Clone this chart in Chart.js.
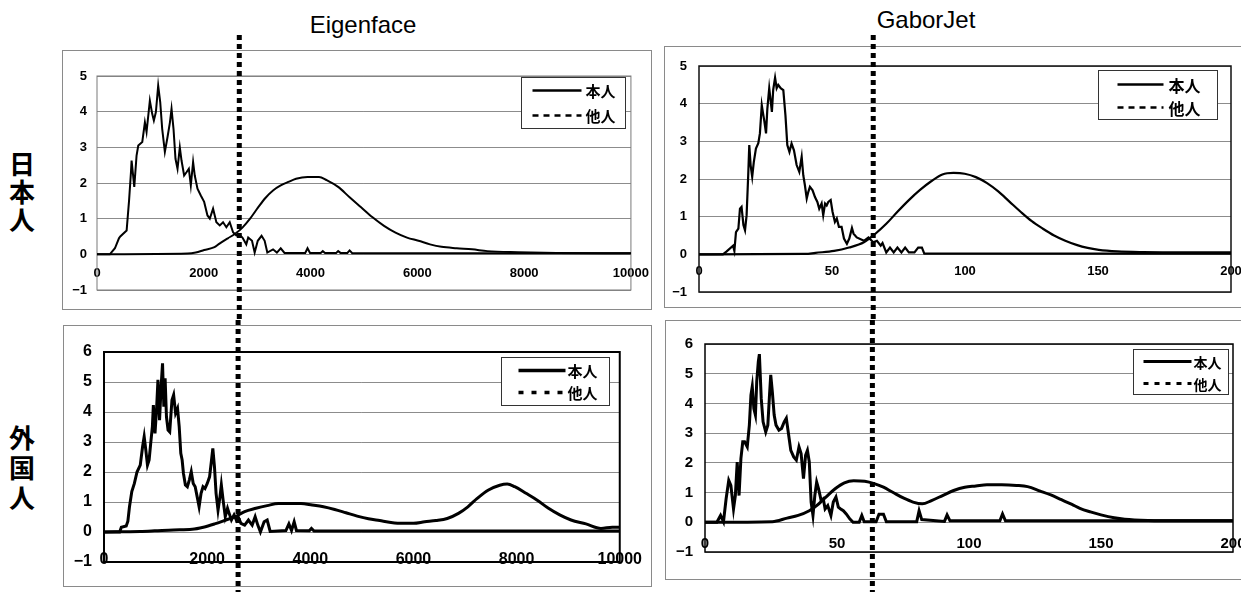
<!DOCTYPE html>
<html>
<head>
<meta charset="utf-8">
<script src="https://cdn.jsdelivr.net/npm/chart.js@4.4.1/dist/chart.umd.min.js"></script>
<style>
    html, body { margin: 0; padding: 0; background: #fff; width: 1241px; height: 592px; overflow: hidden; }
    .frame { position: absolute; border: 1px solid #8a8a8a; box-sizing: border-box; }
    .title { position: absolute; font-family: 'Liberation Sans', Arial, sans-serif; font-size: 24px; color: #000; transform: translateX(-50%); white-space: nowrap; }
    .row { position: absolute; left: 5px; width: 34px; text-align: center; font-family: 'Noto Sans CJK JP', sans-serif; font-weight: 700; font-size: 26px; color: #000; }
    canvas { position: absolute; }
</style>
</head>
<body>

<div class="frame" style="left:62px; top:50px; width:590px; height:260px;"></div>
<div class="frame" style="left:664px; top:46px; width:600px; height:262px;"></div>
<div class="frame" style="left:63px; top:325px; width:589px; height:262px;"></div>
<div class="frame" style="left:665px; top:320px; width:600px; height:260px;"></div>

<div class="title" id="title0" style="left:363px; top:11px;"></div>
<div class="title" id="title1" style="left:926px; top:6px;"></div>
<div class="row" id="row0" style="top:149px; line-height:28px;"></div>
<div class="row" id="row1" style="top:422px; line-height:30px;"></div>

<canvas id="eigenJp" width="600" height="285" style="left:60px; top:35px;"></canvas>
<canvas id="gaborJp" width="610" height="285" style="left:660px; top:35px;"></canvas>
<canvas id="eigenFg" width="600" height="272" style="left:60px; top:320px;"></canvas>
<canvas id="gaborFg" width="610" height="272" style="left:660px; top:320px;"></canvas>

<script>
// labels
const methodTitles = ['Eigenface', 'GaborJet'];
const rowLabels = ['日本人', '外国人'];
const seriesNames = ['本人', '他人'];

// ticks
const xTicksEigen = [0, 2000, 4000, 6000, 8000, 10000];
const xTicksGabor = [0, 50, 100, 150, 200];
const yTicksJp = [-1, 0, 1, 2, 3, 4, 5];
const yTicksFg = [-1, 0, 1, 2, 3, 4, 5, 6];

// threshold (dotted line) per panel: [日本人, 外国人]
const cutEigen = [2665, 2600];
const cutGabor = [65.5, 63.4];

// Eigenface / 日本人
const eigenJpSelf = [[0,0],[240,0],[336,0.17],[411,0.45],[436,0.5],[555,0.67],[600,1.5],[636,2.3],[648,2.63],[698,1.89],[741,2.77],[773,3.05],[848,3.15],[897,3.7],[928,3.43],[990,4.31],[1034,3.94],[1065,3.75],[1103,3.99],[1146,4.73],[1184,4.27],[1221,3.52],[1271,2.87],[1321,3.29],[1366,3.7],[1396,4.08],[1433,3.52],[1470,2.68],[1508,2.4],[1551,3.0],[1583,2.63],[1632,2.21],[1676,2.3],[1720,2.4],[1757,1.93],[1800,2.59],[1831,2.21],[1882,1.84],[1944,1.65],[2007,1.47],[2069,1.09],[2113,1.0],[2174,1.28],[2236,0.9],[2299,0.81],[2361,0.9],[2423,0.76],[2486,0.9],[2548,0.62],[2610,0.53],[2652,0.57],[2724,0.47],[2796,0.28],[2832,0.47],[2903,0.38],[2953,0.05],[3011,0.38],[3082,0.52],[3140,0.38],[3190,0.05],[3297,0.14],[3369,0.05],[3441,0.17],[3512,0.04],[3900,0.04],[3943,0.17],[3990,0.04],[4190,0.04],[4229,0.09],[4270,0.04],[4480,0.04],[4516,0.09],[4560,0.04],[4690,0.04],[4731,0.11],[4780,0.03],[10000,0.03]];
const eigenJpOther = [[0,0],[1700,0.02],[1850,0.05],[2007,0.12],[2200,0.2],[2294,0.3],[2450,0.45],[2581,0.57],[2724,0.75],[2867,1.0],[3011,1.3],[3154,1.58],[3297,1.79],[3441,1.93],[3584,2.03],[3728,2.12],[3943,2.17],[4158,2.17],[4301,2.08],[4516,1.89],[4731,1.6],[4946,1.32],[5161,1.04],[5376,0.8],[5591,0.61],[5806,0.47],[6022,0.38],[6237,0.28],[6452,0.21],[6738,0.17],[7025,0.14],[7312,0.09],[7885,0.06],[8602,0.04],[10000,0.03]];

// GaborJet / 日本人
const gaborJpSelf = [[0,0],[9,0],[10.4,0.08],[12.8,0.23],[13.3,0.09],[13.9,0.59],[14.8,0.68],[15.4,1.21],[16.0,1.26],[16.7,0.78],[17.3,0.64],[17.9,1.04],[18.5,2.1],[18.9,2.9],[19.4,2.37],[20.0,2.06],[20.6,2.45],[21.4,2.81],[22.3,2.95],[22.9,3.21],[23.6,3.96],[24.2,3.69],[24.6,3.52],[25.2,3.21],[25.7,3.87],[26.4,4.41],[26.9,4.1],[27.4,3.78],[27.9,4.37],[28.6,4.69],[29.2,4.41],[29.8,4.5],[30.7,4.41],[31.7,4.36],[32.5,3.69],[33.2,2.9],[34.0,2.72],[34.8,2.94],[35.7,2.76],[36.7,2.37],[37.7,2.19],[38.6,2.59],[39.2,2.1],[39.8,1.84],[40.5,1.48],[41.1,1.66],[41.7,1.79],[42.7,1.7],[43.6,1.52],[44.5,1.39],[45.2,1.21],[46.1,1.35],[46.7,1.04],[47.4,1.35],[48.0,1.3],[48.6,1.39],[49.5,1.44],[50.2,1.13],[51.1,0.86],[51.8,0.95],[52.6,0.73],[53.6,0.73],[54.5,0.42],[55.6,0.28],[56.5,0.42],[57.5,0.7],[58.1,0.55],[59.3,0.45],[62.0,0.36],[63.7,0.45],[65.5,0.32],[66.9,0.36],[68.3,0.23],[69.0,0.3],[70.4,0.05],[71.8,0.18],[73.2,0.05],[74.6,0.18],[76.1,0.05],[77.5,0.18],[78.9,0.05],[81,0.05],[82.4,0.18],[83.8,0.18],[84.7,0.02],[200,0.02]];
const gaborJpOther = [[0,0],[40,0.01],[43.8,0.04],[50.8,0.09],[56.4,0.18],[62,0.32],[66.2,0.54],[70.4,0.81],[74.6,1.13],[78.9,1.44],[83.1,1.71],[87.3,1.94],[91.5,2.12],[95.7,2.16],[99.9,2.14],[104.1,2.05],[108.3,1.89],[112.5,1.67],[116.7,1.4],[120.9,1.13],[125.1,0.88],[129.3,0.68],[133.5,0.5],[137.7,0.36],[141.9,0.25],[146.1,0.17],[150.3,0.12],[157.3,0.08],[167,0.06],[181,0.05],[200,0.05]];

// Eigenface / 外国人
const eigenFgSelf = [[0,0],[304,0],[336,0.16],[431,0.2],[463,0.36],[494,0.84],[539,1.35],[589,1.62],[640,2.0],[703,2.23],[748,2.84],[779,3.18],[811,2.73],[843,2.23],[875,2.4],[906,2.96],[938,3.51],[957,4.23],[989,3.29],[1020,4.12],[1046,5.07],[1077,3.73],[1109,4.9],[1135,5.62],[1160,4.18],[1185,5.12],[1211,3.84],[1242,3.4],[1274,3.34],[1318,4.4],[1350,4.57],[1388,3.96],[1426,4.12],[1458,3.51],[1489,2.62],[1515,2.4],[1540,1.96],[1578,1.57],[1616,1.51],[1654,1.73],[1692,2.01],[1730,1.62],[1768,1.51],[1806,1.18],[1844,0.84],[1882,1.29],[1920,1.51],[1958,1.45],[2002,1.62],[2047,1.84],[2085,2.4],[2110,2.79],[2142,2.17],[2173,1.29],[2211,0.73],[2249,1.18],[2275,1.57],[2313,1.01],[2351,0.51],[2395,0.79],[2427,0.62],[2471,0.4],[2522,0.57],[2566,0.4],[2600,0.51],[2655,0.29],[2727,0.23],[2800,0.4],[2873,0.23],[2931,0.51],[2982,0.23],[3033,0],[3105,0.34],[3164,0.4],[3222,0.02],[3527,0.05],[3585,0.27],[3636,0.05],[3687,0.34],[3731,0.05],[3980,0.04],[4022,0.12],[4073,0.03],[10000,0.03]];
const eigenFgOther = [[0,0],[700,0.02],[982,0.04],[1345,0.07],[1709,0.09],[1927,0.16],[2145,0.27],[2364,0.4],[2545,0.51],[2727,0.68],[2945,0.79],[3164,0.88],[3382,0.95],[3600,0.95],[3818,0.95],[4036,0.9],[4255,0.84],[4473,0.75],[4691,0.64],[4909,0.53],[5127,0.44],[5345,0.38],[5564,0.32],[5782,0.29],[6000,0.29],[6218,0.34],[6436,0.38],[6655,0.45],[6873,0.62],[7055,0.84],[7236,1.12],[7455,1.4],[7673,1.56],[7818,1.6],[7964,1.51],[8182,1.29],[8400,1.06],[8618,0.79],[8836,0.57],[9055,0.4],[9345,0.27],[9636,0.12],[9855,0.16],[10000,0.16]];

// GaborJet / 外国人
const gaborFgSelf = [[0,0],[4.5,0],[5.9,0.23],[7.0,0.02],[8.0,0.79],[9.0,1.41],[9.8,1.24],[10.8,0.45],[11.5,0.9],[12.2,2.03],[12.9,0.9],[13.6,2.14],[14.3,2.71],[15.0,2.71],[16.0,2.54],[16.8,3.27],[17.4,4.28],[17.9,4.57],[18.5,3.83],[19.1,3.61],[19.6,4.74],[20.2,5.41],[20.6,5.66],[21.3,4.17],[22.0,3.38],[23.0,3.04],[23.8,3.27],[24.4,4.23],[24.9,4.96],[25.5,4.4],[26.2,3.61],[26.9,3.27],[28.0,3.1],[29.0,3.16],[30.0,3.38],[30.8,3.5],[31.7,2.93],[32.5,2.42],[33.6,2.2],[34.6,2.09],[35.6,2.54],[36.4,2.31],[37.3,1.47],[38.1,2.25],[38.8,2.42],[39.5,2.03],[40.2,0.68],[40.9,0.23],[41.6,0.9],[42.3,1.35],[43.0,1.13],[44.0,0.73],[44.8,0.79],[45.5,0.45],[46.5,0.56],[47.7,0.23],[48.6,0.68],[49.6,0.85],[50.5,0.51],[51.4,0.45],[52.4,0.39],[53.5,0.28],[54.9,0.11],[56.1,0],[58.4,0],[59.4,0.23],[60.3,0.02],[64.8,0.02],[65.9,0.27],[67.6,0.27],[68.7,0.02],[80.2,0.02],[81.1,0.39],[82.1,0.09],[90.7,0.03],[91.7,0.25],[92.8,0.05],[111.7,0.05],[112.7,0.28],[113.8,0.05],[200,0.05]];
const gaborFgOther = [[0,0],[25.5,0.02],[31.1,0.14],[35.3,0.23],[39.5,0.39],[42.3,0.56],[45.8,0.85],[49.3,1.13],[52.8,1.33],[56.3,1.4],[60.5,1.38],[64.1,1.3],[67.6,1.18],[71.1,1.01],[75.3,0.81],[78.8,0.68],[82.3,0.62],[85.8,0.73],[90.0,0.9],[94.2,1.07],[98.4,1.18],[102.6,1.22],[106.8,1.26],[112.4,1.26],[118.0,1.24],[122.2,1.2],[127,1.05],[131,0.92],[135,0.76],[139,0.6],[142,0.47],[146,0.35],[150,0.25],[155,0.15],[159,0.1],[168,0.06],[180,0.05],[200,0.05]];

document.getElementById('title0').textContent = methodTitles[0];
document.getElementById('title1').textContent = methodTitles[1];
document.getElementById('row0').innerHTML = rowLabels[0].split('').join('<br>');
document.getElementById('row1').innerHTML = rowLabels[1].split('').join('<br>');

const toPts = arr => arr.map(p => ({ x: p[0], y: p[1] }));
const fmtY = v => (v < 0 ? '\u2212' + Math.abs(v) : String(v));

function makePanel(id, cfg) {
    const ctx = document.getElementById(id).getContext('2d');

    // frame of the plot area, legend box and the dotted threshold line
    const deco = {
        id: 'deco',
        beforeDatasetsDraw(chart) {
            const a = chart.chartArea;
            const c = chart.ctx;
            c.save();
            c.strokeStyle = cfg.areaColor;
            c.lineWidth = cfg.areaWidth;
            c.strokeRect(a.left, a.top, a.right - a.left, a.bottom - a.top);
            c.restore();
        },
        afterDraw(chart) {
            const a = chart.chartArea;
            const c = chart.ctx;
            const lg = cfg.legend;
            const bx = Math.round(a.right - lg.dx - lg.w) + 0.5;
            const by = Math.round(a.top + lg.dy) + 0.5;
            c.save();
            c.fillStyle = '#fff';
            c.fillRect(bx, by, lg.w, lg.h);
            c.strokeStyle = '#333';
            c.lineWidth = 1;
            c.strokeRect(bx, by, lg.w, lg.h);
            c.font = lg.font;
            c.fillStyle = '#000';
            c.textBaseline = 'middle';
            for (let i = 0; i < 2; i++) {
                const y = by + lg.rows[i];
                c.beginPath();
                c.setLineDash(i === 0 ? [] : lg.dash);
                c.lineWidth = lg.lw;
                c.strokeStyle = '#000';
                c.moveTo(bx + lg.s0, y);
                c.lineTo(bx + lg.s1, y);
                c.stroke();
                c.fillText(seriesNames[i], bx + lg.tx, y + 1);
            }
            // dotted threshold line
            const x = chart.scales.x.getPixelForValue(cfg.cut);
            c.beginPath();
            c.setLineDash([5, 4]);
            c.lineWidth = 5;
            c.strokeStyle = '#000';
            c.moveTo(x, 0);
            c.lineTo(x, chart.height);
            c.stroke();
            c.restore();
        }
    };

    new Chart(ctx, {
        type: 'line',
        data: {
            datasets: [{
                label: seriesNames[0],
                data: toPts(cfg.self),
                borderColor: '#000',
                borderWidth: cfg.lw,
                pointRadius: 0,
                tension: 0
            }, {
                label: seriesNames[1],
                data: toPts(cfg.other),
                borderColor: '#000',
                borderWidth: cfg.lw,
                pointRadius: 0,
                tension: 0.4,
                cubicInterpolationMode: 'monotone'
            }]
        },
        options: {
            responsive: false,
            animation: false,
            events: [],
            layout: { padding: cfg.pad },
            plugins: { legend: { display: false }, tooltip: { enabled: false } },
            scales: {
                x: {
                    type: 'linear',
                    min: 0,
                    max: cfg.xTicks[cfg.xTicks.length - 1],
                    position: { y: 0 },
                    afterBuildTicks: s => { s.ticks = cfg.xTicks.map(v => ({ value: v })); },
                    grid: { display: false, drawTicks: false },
                    border: { display: false },
                    ticks: {
                        color: '#000',
                        font: cfg.tickFont,
                        padding: cfg.xPad,
                        maxRotation: 0,
                        autoSkip: false,
                        callback: v => String(v)
                    }
                },
                y: {
                    min: -1,
                    max: cfg.yTicks[cfg.yTicks.length - 1],
                    afterBuildTicks: s => { s.ticks = cfg.yTicks.map(v => ({ value: v })); },
                    afterFit: s => { s.width = 30; },
                    grid: { color: '#8c8c8c', lineWidth: 1, drawTicks: false },
                    border: { display: false },
                    ticks: { color: '#000', font: cfg.tickFont, padding: cfg.yPad, callback: fmtY }
                }
            }
        },
        plugins: [deco]
    });
}

const boldFont = size => ({ family: "'Liberation Sans', Arial, sans-serif", size: size, weight: 'bold' });
const narrowFont = size => ({ family: "'Liberation Sans Narrow', 'Arial Narrow', 'Liberation Sans', sans-serif", size: size, weight: 'bold' });
const legendFont = "bold 15px 'Noto Sans CJK JP', sans-serif";

makePanel('eigenJp', {
    self: eigenJpSelf, other: eigenJpOther, xTicks: xTicksEigen, yTicks: yTicksJp, cut: cutEigen[0],
    lw: 2, pad: { left: 7, top: 41, right: 28, bottom: 30 },
    tickFont: boldFont(13), xPad: 11, yPad: 10, areaColor: '#7a7a7a', areaWidth: 1,
    legend: { dx: 6, dy: 1, w: 104, h: 51, rows: [13, 38], s0: 11, s1: 60, tx: 64, lw: 2.5, dash: [6, 5], font: legendFont }
});
makePanel('gaborJp', {
    self: gaborJpSelf, other: gaborJpOther, xTicks: xTicksGabor, yTicks: yTicksJp, cut: cutGabor[0],
    lw: 2.2, pad: { left: 9, top: 31, right: 39, bottom: 28 },
    tickFont: boldFont(13), xPad: 9, yPad: 12, areaColor: '#111', areaWidth: 1.5,
    legend: { dx: 14, dy: 4, w: 119, h: 49, rows: [14, 37], s0: 19, s1: 65, tx: 70, lw: 2.5, dash: [6, 5], font: "bold 16px 'Noto Sans CJK JP', sans-serif" }
});
makePanel('eigenFg', {
    self: eigenFgSelf, other: eigenFgOther, xTicks: xTicksEigen, yTicks: yTicksFg, cut: cutEigen[1],
    lw: 3, pad: { left: 14, top: 32, right: 30, bottom: 30 },
    tickFont: narrowFont(16), xPad: 18, yPad: 12, areaColor: '#000', areaWidth: 2,
    legend: { dx: 11, dy: 5, w: 108, h: 48, rows: [13, 35], s0: 17, s1: 64, tx: 66, lw: 3.5, dash: [5, 8], font: legendFont }
});
makePanel('gaborFg', {
    self: gaborFgSelf, other: gaborFgOther, xTicks: xTicksGabor, yTicks: yTicksFg, cut: cutGabor[1],
    lw: 3, pad: { left: 15, top: 24, right: 37, bottom: 40 },
    tickFont: narrowFont(15), xPad: 13, yPad: 12, areaColor: '#000', areaWidth: 1.5,
    legend: { dx: 5, dy: 5, w: 95, h: 45, rows: [12, 34], s0: 10, s1: 58, tx: 60, lw: 3, dash: [5, 6], font: "bold 14px 'Noto Sans CJK JP', sans-serif" }
});
</script>
</body>
</html>
